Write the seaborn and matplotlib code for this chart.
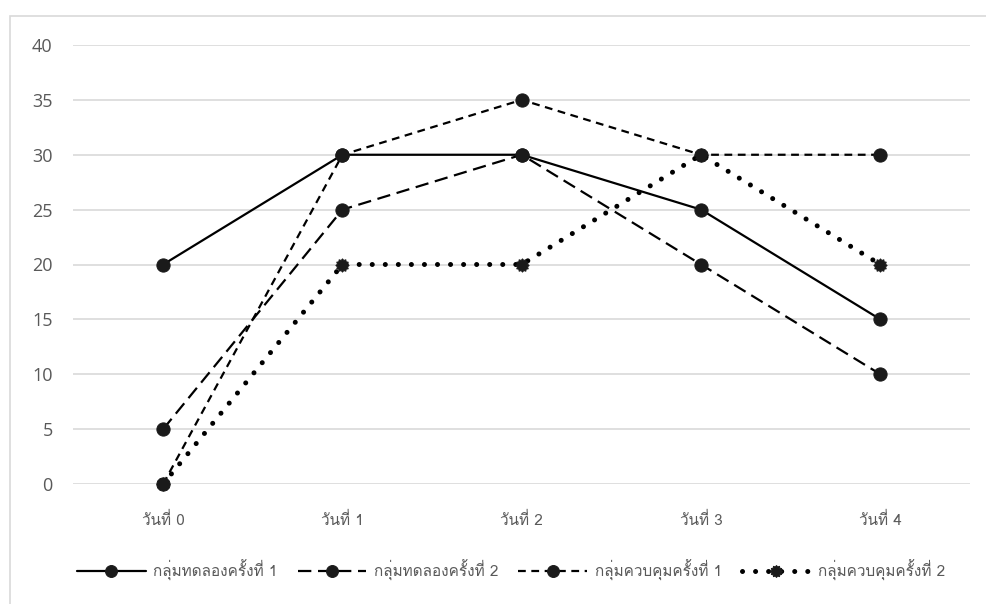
import matplotlib
matplotlib.use("Agg")
import matplotlib.pyplot as plt
import seaborn as sns
import pandas as pd
from matplotlib import font_manager as fm
from matplotlib.patches import Rectangle
from matplotlib.path import Path

days = ["วันที่ 0", "วันที่ 1", "วันที่ 2", "วันที่ 3", "วันที่ 4"]
names = ["กลุ่มทดลองครั้งที่ 1", "กลุ่มทดลองครั้งที่ 2", "กลุ่มควบคุมครั้งที่ 1", "กลุ่มควบคุมครั้งที่ 2"]
exp1 = [20, 30, 30, 25, 15]
exp2 = [5, 25, 30, 20, 10]
ctl1 = [0, 30, 35, 30, 30]
ctl2 = [0, 20, 20, 30, 20]
yticks = [0, 5, 10, 15, 20, 25, 30, 35, 40]

available = {f.name for f in fm.fontManager.ttflist}
thai = next((n for n in ["Loma", "Noto Sans Thai Looped", "Noto Sans Thai"]
             if n in available), "DejaVu Sans")
num_font = "Open Sans" if "Open Sans" in available else "DejaVu Sans"

sns.set_theme(style="white")
plt.rcParams["font.family"] = [thai, "DejaVu Sans"]

fig = plt.figure(figsize=(9.87, 6.04), dpi=100)
ax = fig.add_axes([73.5 / 987, 1 - 484 / 604, (970 - 73.5) / 987, (484 - 45) / 604])

# chart border
fig.patches.append(Rectangle((10 / 987, -0.01), 1.0, 1 - 16 / 604 + 0.01, transform=fig.transFigure,
                             fill=False, edgecolor="#d9d9d9", linewidth=1.2))

gear = Path.unit_regular_star(12, 0.78)
series = [exp1, exp2, ctl1, ctl2]
styles = [
    dict(linestyle="-", linewidth=1.6, marker="o"),
    dict(linestyle=(0, (6, 3)), linewidth=1.6, marker="o"),
    dict(linestyle=(0, (3.5, 2.5)), linewidth=1.6, marker="o"),
    dict(linestyle=(0, (0.01, 2.6)), linewidth=3.6, dash_capstyle="round", marker=gear),
]
for vals, name, st in zip(series, names, styles):
    df = pd.DataFrame({"day": days, "value": vals})
    sns.lineplot(data=df, x="day", y="value", ax=ax, color="black",
                 markersize=9.5, markerfacecolor="#1a1a1a", markeredgecolor="#1a1a1a",
                 label=name, sort=False, clip_on=False, **st)

ax.set_xlim(-0.5, 4.5)
ax.set_ylim(0, 40)
ax.set_yticks(yticks)
ax.set_xlabel("")
ax.set_ylabel("")
for s in ax.spines.values():
    s.set_visible(False)
ax.grid(axis="y", color="#d9d9d9", linewidth=1.2)
ax.grid(axis="x", visible=False)
ax.set_axisbelow(True)
ax.tick_params(axis="y", length=0, pad=15, labelsize=13, labelcolor="#595959")
ax.tick_params(axis="x", length=0, pad=20, labelsize=11, labelcolor="#595959")
for t in ax.get_yticklabels():
    t.set_fontfamily(num_font)

h, l = ax.get_legend_handles_labels()
ax.get_legend().remove()
fig.legend(h, l, loc="center", bbox_to_anchor=(511 / 987, 1 - 570 / 604), ncol=4, frameon=False,
           fontsize=11, handlelength=4.5, handletextpad=0.5, columnspacing=1.3, labelcolor="#595959",
           numpoints=1, markerscale=0.9)

fig.savefig("out.png", dpi=100)
